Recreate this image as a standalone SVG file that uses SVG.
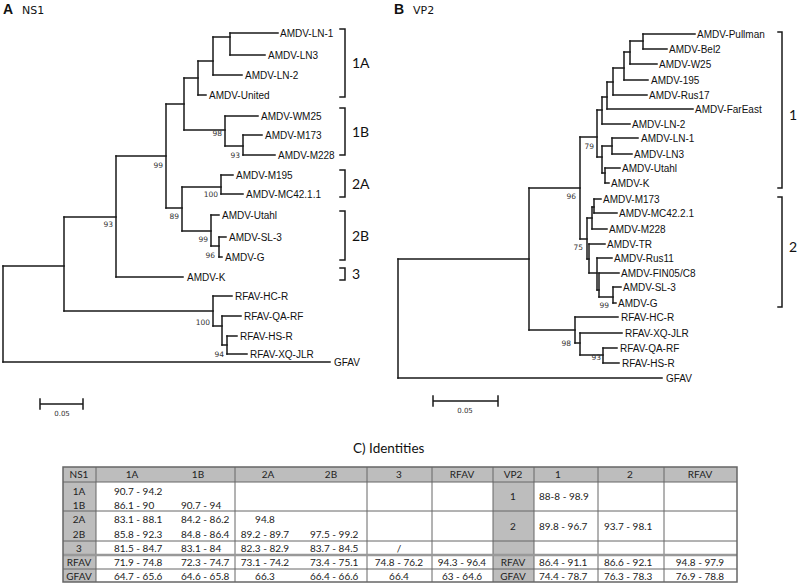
<svg xmlns="http://www.w3.org/2000/svg" width="800" height="587" viewBox="0 0 800 587">
<style>
.br{stroke:#1a1a1a;stroke-width:1.5;fill:none;stroke-linecap:square}
.lf{font-family:"Liberation Sans",Arial,sans-serif;font-size:10px;fill:#111}
.bs{font-family:"DejaVu Sans",sans-serif;font-size:7.5px;fill:#333;text-anchor:end}
.cl{font-family:Lato,"Open Sans",sans-serif;font-size:14px;fill:#111}
.tt{font-family:"DejaVu Sans",sans-serif;font-size:11px;fill:#111}
.tl{font-family:"Liberation Sans",Arial,sans-serif;font-size:14px;font-weight:bold;fill:#111}
.sc{font-family:"DejaVu Sans",sans-serif;font-size:7px;fill:#333;text-anchor:middle}
.tb{font-family:Lato,"Open Sans",sans-serif;font-size:10px;fill:#222}
.tc{text-anchor:middle}
.gl{stroke:#666;stroke-width:1;fill:none}
.gf{fill:#bdbdbd}
</style>
<rect width="800" height="587" fill="#fff"/>
<text class="tl" x="3" y="14">A</text><text class="tt" x="22" y="14">NS1</text>
<text class="tl" x="394" y="14">B</text><text class="tt" x="413" y="14">VP2</text>
<g id="connectors">
<path class="br" d="M3 266V362M64 217V311M116 156V277M166 104V208M184 78V130M198 61V95M213 37V75M230 33V55M225 116V146M243 135V155M182 187V231M221 175V194M211 215V246M219 237V257M213 296V326M222 316V345M227 336V354"/>
<path class="br" d="M3 266H64M3 362H330M64 217H116M64 311H213M116 156H166M116 277H183M166 104H184M166 208H182M184 78H198M184 130H225M198 61H213M198 95H206M213 37H230M213 75H242M230 33H278M230 55H265M225 116H258M225 146H243M243 135H262M243 155H275M182 187H221M182 231H211M221 175H233M221 194H243M211 215H219M211 246H219M219 237H226M219 257H222M213 296H232M213 326H222M222 316H241M222 345H227M227 336H237M227 354H247"/>
<path class="br" d="M398 259V378M529 188V330M580 137V239M597 110V157M602 97V124M607 82V109M613 68V95M624 52V80M630 41V64M643 34V49M602 146V173M612 138V154M605 168V183M587 218V259M592 207V229M594 199V213M589 244V273M597 258V290M599 273V297M613 287V303M575 317V343M580 333V355M603 348V363"/>
<path class="br" d="M398 259H529M398 378H662M529 188H580M529 330H575M580 137H597M580 239H587M597 110H602M597 157H602M602 97H607M602 124H630M607 82H613M607 109H693M613 68H624M613 95H647M624 52H630M624 80H648M630 41H643M630 64H657M643 34H695M643 49H667M602 146H612M602 173H605M612 138H638M612 154H632M605 168H620M605 183H609M587 218H592M587 259H589M592 207H594M592 229H607M594 199H601M594 213H617M589 244H605M589 273H597M597 258H612M597 290H599M599 273H619M599 297H613M613 287H621M613 303H616M575 317H618M575 343H580M580 333H622M580 355H603M603 348H617M603 363H619"/>
</g>
<g id="bootstrap">
<text class="bs" x="222" y="136">98</text><text class="bs" x="240" y="158">93</text>
<text class="bs" x="163" y="168">99</text><text class="bs" x="179" y="219">89</text>
<text class="bs" x="113" y="227">93</text><text class="bs" x="218" y="197">100</text>
<text class="bs" x="208" y="242">99</text><text class="bs" x="215" y="258">96</text>
<text class="bs" x="210" y="325">100</text><text class="bs" x="224" y="357">94</text>
<text class="bs" x="594" y="149">79</text><text class="bs" x="576" y="199">96</text>
<text class="bs" x="583" y="250">75</text><text class="bs" x="609" y="308">99</text>
<text class="bs" x="571" y="346">98</text><text class="bs" x="601" y="360">93</text>
</g>
<g id="n-LN-1"><text class="lf" x="280" y="37">AMDV-LN-1</text></g>
<g id="n-LN3"><text class="lf" x="268" y="59">AMDV-LN3</text></g>
<g id="n-LN-2"><text class="lf" x="245" y="79">AMDV-LN-2</text></g>
<g id="n-United"><text class="lf" x="209" y="99">AMDV-United</text></g>
<g id="n-WM25"><text class="lf" x="261" y="120">AMDV-WM25</text></g>
<g id="n-M173"><text class="lf" x="265" y="139">AMDV-M173</text></g>
<g id="n-M228"><text class="lf" x="278" y="159">AMDV-M228</text></g>
<g id="n-M195"><text class="lf" x="236" y="179">AMDV-M195</text></g>
<g id="n-MC42.1.1"><text class="lf" x="246" y="198">AMDV-MC42.1.1</text></g>
<g id="n-Utahl-A"><text class="lf" x="222" y="219">AMDV-Utahl</text></g>
<g id="n-SL-3-A"><text class="lf" x="229" y="241">AMDV-SL-3</text></g>
<g id="n-G-A"><text class="lf" x="225" y="261">AMDV-G</text></g>
<g id="n-K-A"><text class="lf" x="187" y="281">AMDV-K</text></g>
<g id="n-HC-R-A"><text class="lf" x="235" y="300">RFAV-HC-R</text></g>
<g id="n-QA-RF-A"><text class="lf" x="244" y="320">RFAV-QA-RF</text></g>
<g id="n-HS-R-A"><text class="lf" x="240" y="340">RFAV-HS-R</text></g>
<g id="n-XQ-JLR-A"><text class="lf" x="250" y="358">RFAV-XQ-JLR</text></g>
<g id="n-GFAV-A"><text class="lf" x="334" y="366">GFAV</text></g>
<g id="n-Pullman"><text class="lf" x="697" y="38">AMDV-Pullman</text></g>
<g id="n-Bel2"><text class="lf" x="669" y="53">AMDV-Bel2</text></g>
<g id="n-W25"><text class="lf" x="659" y="68">AMDV-W25</text></g>
<g id="n-195"><text class="lf" x="651" y="84">AMDV-195</text></g>
<g id="n-Rus17"><text class="lf" x="649" y="99">AMDV-Rus17</text></g>
<g id="n-FarEast"><text class="lf" x="695" y="113">AMDV-FarEast</text></g>
<g id="n-LN-2-B"><text class="lf" x="632" y="128">AMDV-LN-2</text></g>
<g id="n-LN-1-B"><text class="lf" x="641" y="142">AMDV-LN-1</text></g>
<g id="n-LN3-B"><text class="lf" x="634" y="158">AMDV-LN3</text></g>
<g id="n-Utahl-B"><text class="lf" x="622" y="172">AMDV-Utahl</text></g>
<g id="n-K-B"><text class="lf" x="611" y="187">AMDV-K</text></g>
<g id="n-M173-B"><text class="lf" x="603" y="203">AMDV-M173</text></g>
<g id="n-MC42.2.1"><text class="lf" x="619" y="217">AMDV-MC42.2.1</text></g>
<g id="n-M228-B"><text class="lf" x="609" y="233">AMDV-M228</text></g>
<g id="n-TR"><text class="lf" x="607" y="248">AMDV-TR</text></g>
<g id="n-Rus11"><text class="lf" x="614" y="262">AMDV-Rus11</text></g>
<g id="n-FIN05"><text class="lf" x="621" y="277">AMDV-FIN05/C8</text></g>
<g id="n-SL-3-B"><text class="lf" x="623" y="291">AMDV-SL-3</text></g>
<g id="n-G-B"><text class="lf" x="618" y="307">AMDV-G</text></g>
<g id="n-HC-R-B"><text class="lf" x="621" y="321">RFAV-HC-R</text></g>
<g id="n-XQ-JLR-B"><text class="lf" x="625" y="337">RFAV-XQ-JLR</text></g>
<g id="n-QA-RF-B"><text class="lf" x="620" y="352">RFAV-QA-RF</text></g>
<g id="n-HS-R-B"><text class="lf" x="622" y="367">RFAV-HS-R</text></g>
<g id="n-GFAV-B"><text class="lf" x="666" y="382">GFAV</text></g>
<g id="clade-1A"><path class="br" d="M340 29H345V97H340"/><text class="cl" x="352" y="68">1A</text></g>
<g id="clade-1B"><path class="br" d="M340 108H345V155H340"/><text class="cl" x="352" y="137">1B</text></g>
<g id="clade-2A"><path class="br" d="M340 170H345V197H340"/><text class="cl" x="352" y="189">2A</text></g>
<g id="clade-2B"><path class="br" d="M340 211H345V260H340"/><text class="cl" x="352" y="241">2B</text></g>
<g id="clade-3"><path class="br" d="M340 268H345V280H340"/><text class="cl" x="352" y="279">3</text></g>
<g id="clade-B1"><path class="br" d="M778 32H782V188H778"/><text class="cl" x="789" y="120">1</text></g>
<g id="clade-B2"><path class="br" d="M778 197H782V307H778"/><text class="cl" x="789" y="252">2</text></g>
<g id="scale-A"><path class="br" d="M40 404H83M40 399V409M83 399V409"/><text class="sc" x="62" y="416">0.05</text></g>
<g id="scale-B"><path class="br" d="M433 401H498M433 396V406M498 396V406"/><text class="sc" x="465" y="413">0.05</text></g>
<g id="table">
<text x="353" y="453" style="font-family:Lato,'Open Sans',sans-serif;font-size:13.5px;fill:#111">C) Identities</text>
<rect class="gf" x="63" y="467" width="674" height="15"/>
<rect class="gf" x="63" y="482" width="33" height="100"/>
<rect class="gf" x="493" y="482" width="41" height="100"/>
<path class="gl" d="M63 482H737M63 511H737M63 541H737M63 569H737M96 467V582M235 467V582M367 467V582M432 467V582M493 467V582M534 467V582M598 467V582M664 467V582"/>
<path d="M63 555H737" stroke="#999" stroke-width="2.5"/>
<rect x="63" y="467" width="674" height="115" fill="none" stroke="#666" stroke-width="1.5"/>
<g class="tb">
<text class="tc" x="79" y="478">NS1</text><text class="tc" x="132" y="478">1A</text><text class="tc" x="198" y="478">1B</text>
<text class="tc" x="268" y="478">2A</text><text class="tc" x="331" y="478">2B</text><text class="tc" x="399" y="478">3</text>
<text class="tc" x="462" y="478">RFAV</text><text class="tc" x="513" y="478">VP2</text><text class="tc" x="558" y="478">1</text>
<text class="tc" x="630" y="478">2</text><text class="tc" x="700" y="478">RFAV</text>
<text class="tc" x="79" y="495">1A</text><text class="tc" x="79" y="509">1B</text><text class="tc" x="79" y="523">2A</text>
<text class="tc" x="79" y="538">2B</text><text class="tc" x="79" y="552">3</text><text class="tc" x="79" y="566">RFAV</text><text class="tc" x="79" y="580">GFAV</text>
<text x="114" y="495">90.7 - 94.2</text>
<text x="114" y="509">86.1 - 90</text><text x="181" y="509">90.7 - 94</text>
<text x="114" y="523">83.1 - 88.1</text><text x="181" y="523">84.2 - 86.2</text><text class="tc" x="265" y="523">94.8</text>
<text x="114" y="538">85.8 - 92.3</text><text x="181" y="538">84.8 - 86.4</text><text class="tc" x="265" y="538">89.2 - 89.7</text><text x="310" y="538">97.5 - 99.2</text>
<text x="114" y="552">81.5 - 84.7</text><text x="181" y="552">83.1 - 84</text><text class="tc" x="265" y="552">82.3 - 82.9</text><text x="310" y="552">83.7 - 84.5</text><text class="tc" x="399" y="552">/</text>
<text x="114" y="566">71.9 - 74.8</text><text x="181" y="566">72.3 - 74.7</text><text class="tc" x="265" y="566">73.1 - 74.2</text><text x="310" y="566">73.4 - 75.1</text><text class="tc" x="399" y="566">74.8 - 76.2</text><text class="tc" x="462" y="566">94.3 - 96.4</text>
<text x="114" y="580">64.7 - 65.6</text><text x="181" y="580">64.6 - 65.8</text><text class="tc" x="265" y="580">66.3</text><text x="310" y="580">66.4 - 66.6</text><text class="tc" x="399" y="580">66.4</text><text class="tc" x="462" y="580">63 - 64.6</text>
<text class="tc" x="513" y="500">1</text><text x="539" y="500">88-8 - 98.9</text>
<text class="tc" x="513" y="530">2</text><text x="539" y="530">89.8 - 96.7</text><text x="604" y="530">93.7 - 98.1</text>
<text class="tc" x="513" y="566">RFAV</text><text x="539" y="566">86.4 - 91.1</text><text x="604" y="566">86.6 - 92.1</text><text class="tc" x="700" y="566">94.8 - 97.9</text>
<text class="tc" x="513" y="580">GFAV</text><text x="539" y="580">74.4 - 78.7</text><text x="604" y="580">76.3 - 78.3</text><text class="tc" x="700" y="580">76.9 - 78.8</text>
</g>
</g>
</svg>
